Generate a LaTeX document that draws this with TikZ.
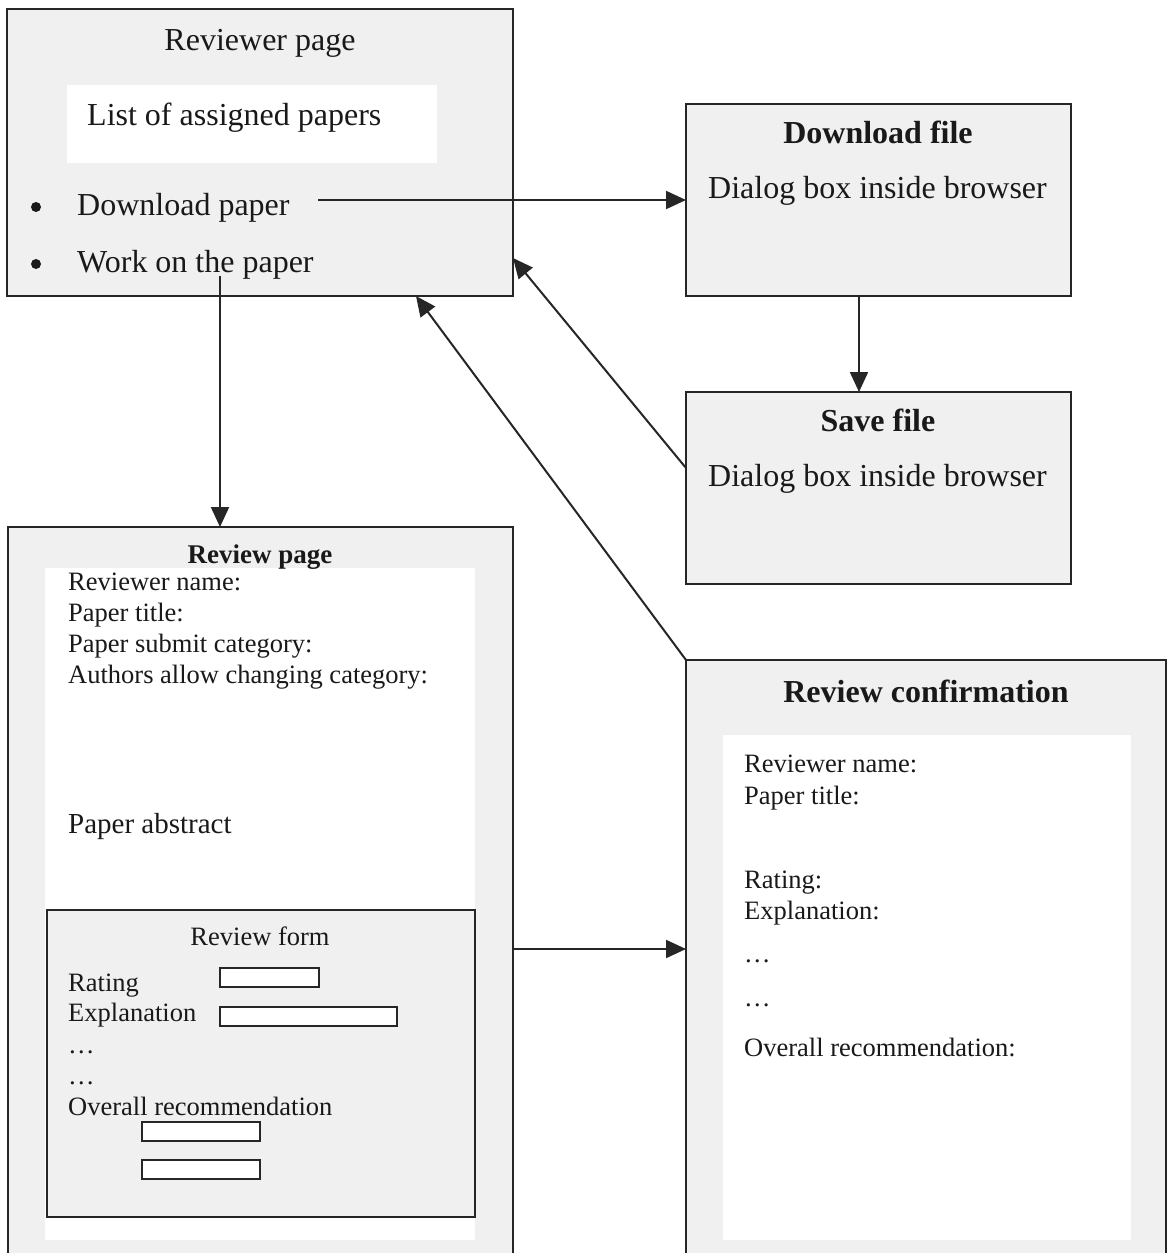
\documentclass[tikz,border=0pt]{standalone}
\usepackage{fontspec}
\setmainfont{Liberation Serif}
\usetikzlibrary{arrows.meta}

\tikzset{
  panel/.style={draw=black!85, line width=2pt, fill=black!6, inner sep=0pt, outer sep=0pt},
  blank/.style={fill=white, draw=none},
  field/.style={draw=black!85, line width=1.8pt, fill=white},
  big/.style={font=\fontsize{32}{38}\selectfont, inner sep=0pt, text=black!90},
  bigb/.style={font=\fontsize{32}{38}\selectfont\bfseries, inner sep=0pt, text=black!90},
  small/.style={font=\fontsize{26.5}{31}\selectfont, inner sep=0pt, text=black!90},
  smallb/.style={font=\fontsize{27}{31}\selectfont\bfseries, inner sep=0pt, text=black!90},
  mid/.style={font=\fontsize{29}{34}\selectfont, inner sep=0pt, text=black!90},
  flow/.style={line width=2pt, draw=black!85, -{Triangle[length=20pt,width=18pt]}},
}

\begin{document}
\begin{tikzpicture}[x=1pt,y=-1pt]
\useasboundingbox (0,0) rectangle (1169,1253);
\fill[white] (0,0) rectangle (1169,1253);

% ---- panels ----
\node[panel, anchor=north west, minimum width=506pt, minimum height=287pt] (rp) at (7,9) {};
\fill[blank] (67,85) rectangle (437,163);

\node[panel, anchor=north west, minimum width=385pt, minimum height=192pt] (dlf) at (686,104) {};
\node[panel, anchor=north west, minimum width=385pt, minimum height=192pt] (svf) at (686,392) {};

\node[panel, anchor=north west, minimum width=505pt, minimum height=745pt] (rvp) at (8,527) {};
\fill[blank] (45,568) rectangle (475,1240);
\node[panel, anchor=north west, minimum width=428pt, minimum height=307pt] (form) at (47,910) {};

\node[panel, anchor=north west, minimum width=480pt, minimum height=612pt] (rc) at (686,660) {};
\fill[blank] (723,735) rectangle (1131,1240);

% ---- reviewer page ----
\node[big, anchor=base] (rpTitle) at (260,50) {Reviewer page};
\node[big, anchor=base west] (rpList) at (87,125) {List of assigned papers};
\fill[black!90] (36,207) circle (5);
\fill[black!90] (36,264) circle (5);
\node[big, anchor=base west] (rpDown) at (77,215) {Download paper};
\node[big, anchor=base west] (rpWork) at (77,272) {Work on the paper};

% ---- download / save dialogs ----
\node[bigb, anchor=base] (dlfTitle) at (878,143) {Download file};
\node[big, anchor=base west] (dlfText) at (708,198) {Dialog box inside browser};
\node[bigb, anchor=base] (svfTitle) at (878,431) {Save file};
\node[big, anchor=base west] (svfText) at (708,486) {Dialog box inside browser};

% ---- review page ----
\node[smallb, anchor=base] (rvpTitle) at (260,563) {Review page};
\node[small, anchor=base west] (rvpA) at (68,590) {Reviewer name:};
\node[small, anchor=base west] (rvpB) at (68,621) {Paper title:};
\node[small, anchor=base west] (rvpC) at (68,652) {Paper submit category:};
\node[small, anchor=base west] (rvpD) at (68,683) {Authors allow changing category:};
\node[mid, anchor=base west] (rvpAbs) at (68,833) {Paper abstract};

% ---- review form ----
\node[small, anchor=base] (formTitle) at (260,945) {Review form};
\node[small, anchor=base west] (fA) at (68,991) {Rating};
\node[small, anchor=base west] (fB) at (68,1021) {Explanation};
\node[small, anchor=base west] (fC) at (68,1053) {…};
\node[small, anchor=base west] (fD) at (68,1084) {…};
\node[small, anchor=base west] (fE) at (68,1115) {Overall recommendation};
\draw[field] (220,968) rectangle (319,987);
\draw[field] (220,1007) rectangle (397,1026);
\draw[field] (142,1122) rectangle (260,1141);
\draw[field] (142,1160) rectangle (260,1179);

% ---- review confirmation ----
\node[bigb, anchor=base] (rcTitle) at (926,702) {Review confirmation};
\node[small, anchor=base west] (rcA) at (744,772) {Reviewer name:};
\node[small, anchor=base west] (rcB) at (744,804) {Paper title:};
\node[small, anchor=base west] (rcC) at (744,888) {Rating:};
\node[small, anchor=base west] (rcD) at (744,919) {Explanation:};
\node[small, anchor=base west] (rcE) at (744,962) {…};
\node[small, anchor=base west] (rcF) at (744,1006) {…};
\node[small, anchor=base west] (rcG) at (744,1056) {Overall recommendation:};

% ---- connectors ----
\coordinate (downOut) at (318,200);
\draw[flow] (downOut) -- (dlf.west |- downOut);

\coordinate (workOut) at (220,276);
\draw[flow] (workOut) -- (rvp.north -| workOut);

\draw[flow] ([xshift=-19.5pt]dlf.south) -- ([xshift=-19.5pt]svf.north);

\draw[flow] ([yshift=20pt]svf.west) -- ([yshift=-105.5pt]rp.east);

\draw[flow] (rc.north west) -- ([xshift=156pt]rp.south);

\coordinate (formOut) at (513,949);
\draw[flow] (formOut) -- (rc.west |- formOut);
\end{tikzpicture}
\end{document}
